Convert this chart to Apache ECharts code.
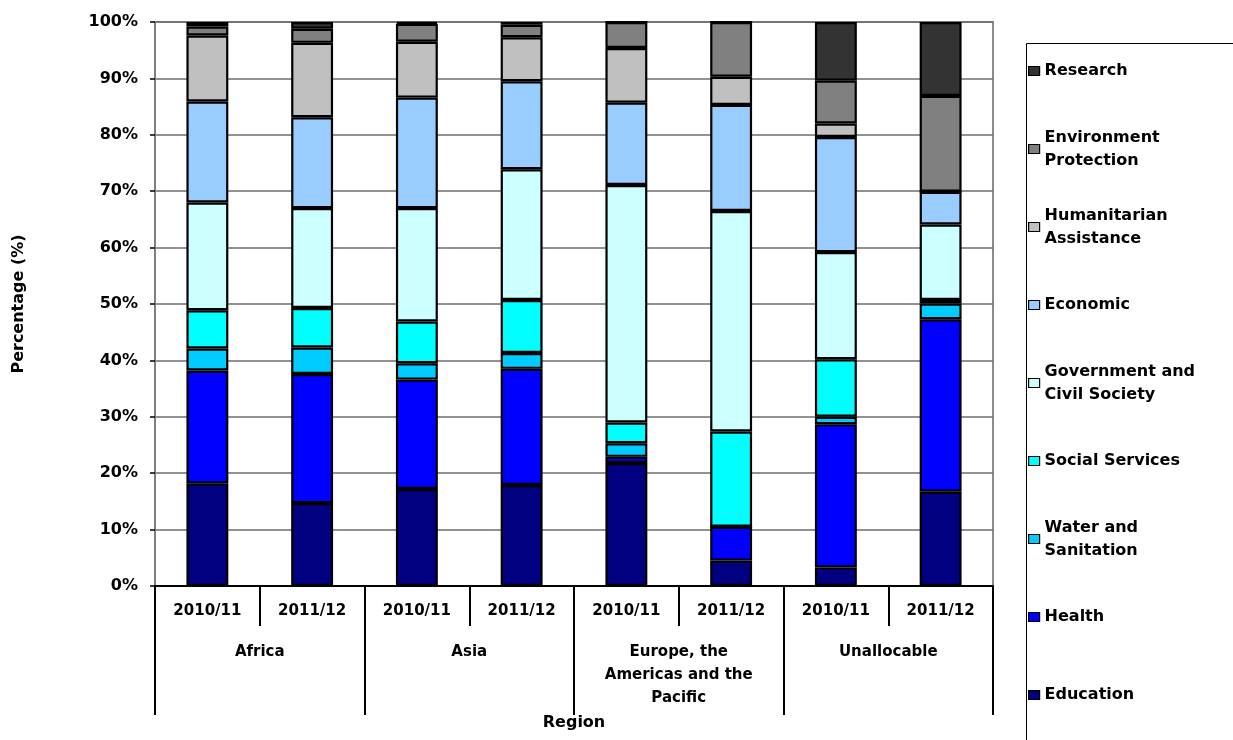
<!DOCTYPE html>
<html>
<head>
<meta charset="utf-8">
<script src="https://cdn.jsdelivr.net/npm/echarts@6/dist/echarts.min.js"></script>
<style>html,body{margin:0;padding:0;background:#fff}#c{width:1233px;height:740px}</style>
</head>
<body>
<div id="c"></div>
<script>
// ---- data ----
const yearLabels = ['2010/11','2011/12','2010/11','2011/12','2010/11','2011/12','2010/11','2011/12'];
const regionLabels = ['Africa','Asia','Europe, the\nAmericas and the\nPacific','Unallocable'];
const yTicks = [0,10,20,30,40,50,60,70,80,90,100];

const education    = [18.2, 14.7, 17.2, 17.9, 21.8,  4.5,  3.3, 16.7];
const health       = [20.0, 22.9, 19.4, 20.6,  1.1,  6.0, 25.4, 30.6];
const water        = [ 3.9,  4.7,  2.9,  2.8,  2.4,  0.0,  1.3,  2.8];
const social       = [ 6.8,  7.0,  7.4,  9.4,  3.7, 16.9, 10.2,  0.6];
const government   = [19.1, 17.7, 20.1, 23.2, 42.1, 39.1, 19.0, 13.4];
const economic     = [17.9, 16.1, 19.6, 15.6, 14.6, 18.8, 20.4,  5.8];
const humanitarian = [11.7, 13.2,  9.9,  7.8,  9.7,  5.0,  2.4,  0.0];
const environment  = [ 1.6,  2.5,  3.2,  2.2,  4.6,  9.7,  7.6, 17.0];
const research     = [ 0.8,  1.2,  0.3,  0.5,  0.0,  0.0, 10.4, 13.1];

const seriesNames = ['Education','Health','Water and Sanitation','Social Services','Government and Civil Society','Economic','Humanitarian Assistance','Environment Protection','Research'];
const legendLabels = {
  'Environment Protection': 'Environment\nProtection',
  'Humanitarian Assistance': 'Humanitarian\nAssistance',
  'Government and Civil Society': 'Government and\nCivil Society',
  'Water and Sanitation': 'Water and\nSanitation'
};
const seriesValues = [education, health, water, social, government, economic, humanitarian, environment, research];
const colors = ['#000080','#0000FF','#00CCFF','#00FFFF','#CCFFFF','#99CCFF','#C0C0C0','#808080','#333333'];

// ---- chart ----
const FONT = 'DejaVu Sans';
const chart = echarts.init(document.getElementById('c'), null, {renderer: 'canvas'});

const series = seriesNames.map((n, i) => ({
  name: n,
  type: 'bar',
  stack: 'total',
  barWidth: '40%',
  xAxisIndex: 0,
  data: seriesValues[i],
  itemStyle: {color: colors[i], borderColor: '#000', borderWidth: 2.2},
  emphasis: {disabled: true}
}));

const legendData = seriesNames.slice().reverse().map(n => ({
  name: n,
  itemStyle: {borderWidth: 1.2},
  textStyle: {padding: legendLabels[n] ? [23, 0, 0, 0] : [23, 0, 23, 0]}
}));

chart.setOption({
  animation: false,
  backgroundColor: '#fff',
  color: colors,
  grid: {left: 155, right: 240, top: 22, bottom: 154, show: true, borderColor: '#8c8c8c', borderWidth: 2, backgroundColor: '#fff'},
  xAxis: [
    {
      type: 'category', position: 'bottom', data: yearLabels,
      axisLine: {show: true, lineStyle: {color: '#000', width: 2}},
      axisTick: {show: true, length: 40, lineStyle: {color: '#000', width: 2}},
      axisLabel: {color: '#000', fontFamily: FONT, fontWeight: 'bold', fontSize: 15, margin: 18, interval: 0}
    },
    {
      type: 'category', position: 'bottom', data: regionLabels,
      axisLine: {show: false},
      axisTick: {show: true, length: 129, lineStyle: {color: '#000', width: 2}},
      axisLabel: {color: '#000', fontFamily: FONT, fontWeight: 'bold', fontSize: 15, lineHeight: 23, margin: 55, interval: 0},
      name: 'Region', nameLocation: 'middle', nameGap: 124,
      nameTextStyle: {color: '#000', fontFamily: FONT, fontWeight: 'bold', fontSize: 16}
    }
  ],
  yAxis: {
    type: 'value', min: yTicks[0], max: yTicks[yTicks.length - 1], interval: 10,
    axisLine: {show: true, lineStyle: {color: '#808080', width: 2}},
    axisTick: {show: true, length: 5, lineStyle: {color: '#000', width: 1.5}},
    axisLabel: {color: '#000', fontFamily: FONT, fontWeight: 'bold', fontSize: 16, margin: 17, formatter: '{value}%'},
    splitLine: {show: true, lineStyle: {color: '#6e6e6e', width: 1.5}},
    name: 'Percentage (%)', nameLocation: 'middle', nameGap: 128,
    nameTextStyle: {color: '#000', fontFamily: FONT, fontWeight: 'bold', fontSize: 16}
  },
  legend: {
    orient: 'vertical', left: 1028, top: 36.5, padding: 0,
    itemWidth: 11, itemHeight: 9, itemGap: 9,
    icon: 'rect',
    selectedMode: false,
    data: legendData,
    formatter: n => legendLabels[n] || n,
    textStyle: {color: '#000', fontFamily: FONT, fontWeight: 'bold', fontSize: 16, lineHeight: 23, backgroundColor: 'rgba(255,255,255,0)'}
  },
  graphic: [{
    type: 'rect', left: 1024, top: 41, silent: true, z: -1,
    shape: {width: 240, height: 720},
    style: {fill: 'none', stroke: '#000', lineWidth: 1}
  }],
  series: series
});
</script>
</body>
</html>
